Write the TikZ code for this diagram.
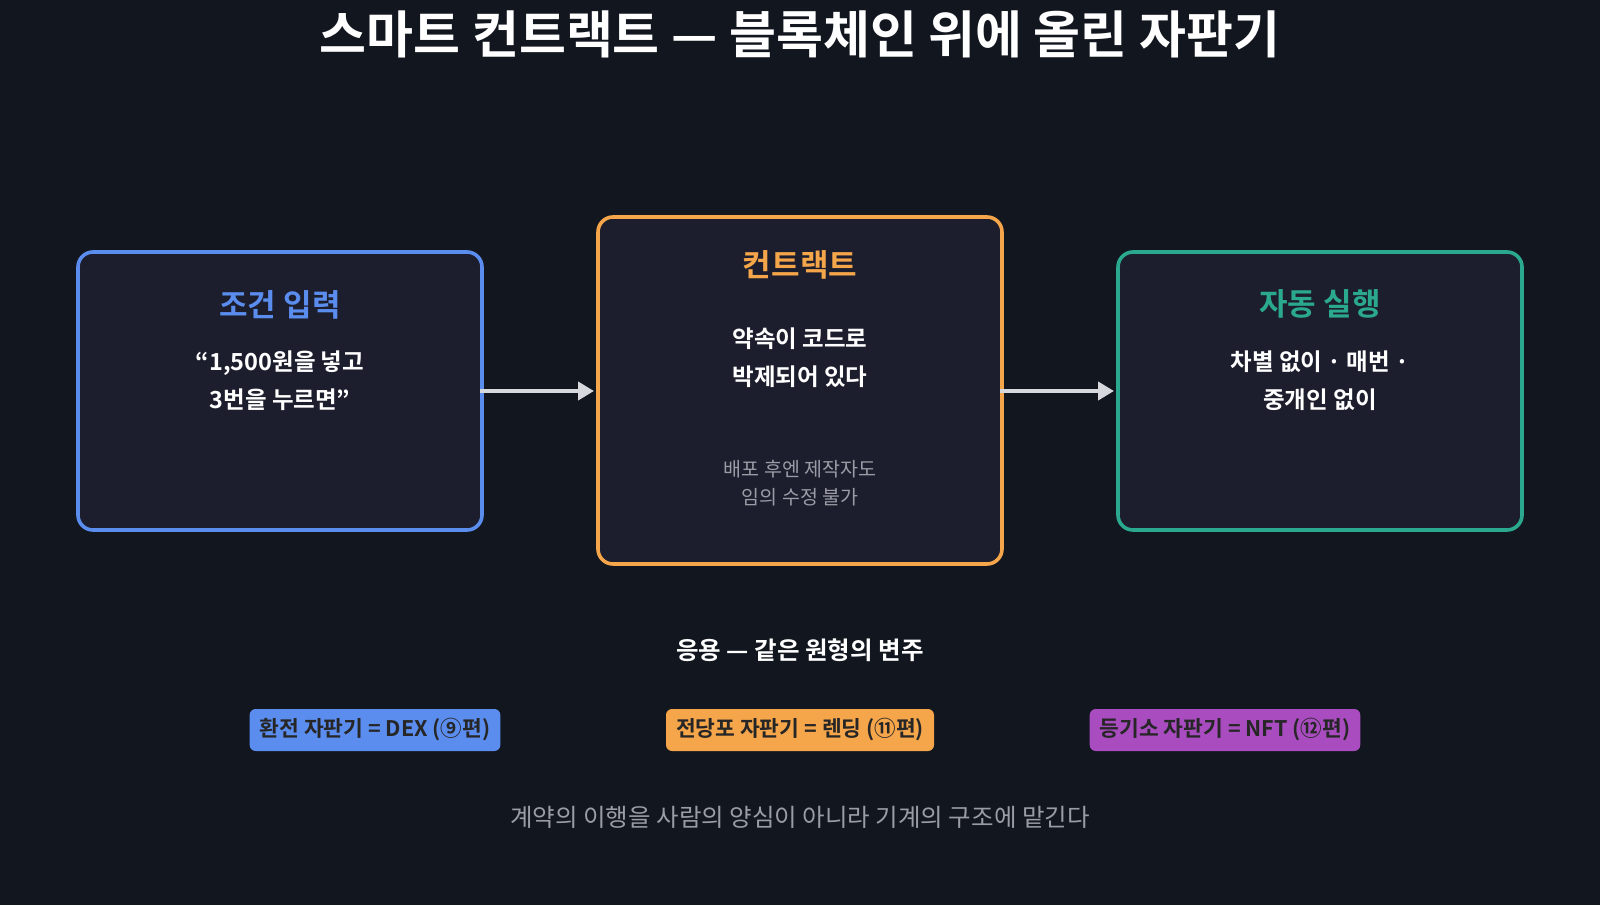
\documentclass[tikz,border=0pt]{standalone}
\usepackage{fontspec}
\setmainfont{Noto Sans CJK KR}
\newfontfamily\kb{Noto Sans CJK KR Bold}
\usetikzlibrary{arrows.meta}
\definecolor{bg}{HTML}{12161F}
\definecolor{boxbg}{HTML}{1D1E2D}
\definecolor{cblue}{HTML}{5B8DEF}
\definecolor{corange}{HTML}{F5A54A}
\definecolor{cteal}{HTML}{2BA98F}
\definecolor{cpurple}{HTML}{A84CC0}
\definecolor{cgray}{HTML}{9A9CA6}
\definecolor{carrow}{HTML}{D6D8DE}
\tikzset{
 card/.style={draw, line width=3.6pt, rounded corners=15pt, fill=boxbg},
 head/.style={font=\kb\fontsize{31}{36}\selectfont},
 body/.style={font=\kb\fontsize{23.5}{38}\selectfont, text=white, align=center},
 small/.style={font=\fontsize{19.5}{28}\selectfont, text=cgray, align=center},
 pill/.style={rounded corners=6pt, inner xsep=10pt, minimum height=42pt, font=\kb\fontsize{21.5}{24}\selectfont, text=black!85},
 arr/.style={draw=carrow, line width=4pt, -{Triangle[length=16pt,width=18pt]}}
}
\begin{document}
\begin{tikzpicture}[x=1pt,y=-1pt]
\fill[bg] (0,0) rectangle (1600,905);
\useasboundingbox (0,0) rectangle (1600,905);
\node[font=\kb\fontsize{51}{56}\selectfont, text=white] (title) at (800,34) {스마트 컨트랙트 — 블록체인 위에 올린 자판기};
\draw[card, draw=cblue] (78,252) rectangle (482,530);
\draw[card, draw=corange] (598,217) rectangle (1002,564);
\draw[card, draw=cteal] (1118,252) rectangle (1522,530);
\coordinate (L) at (480,391); \coordinate (M1) at (594,391);
\coordinate (M2) at (1000,391); \coordinate (R) at (1114,391);
\node[head, text=cblue] (h1) at (280,305) {조건 입력};
\node[body] (b1) at (280,381) {“1,500원을 넣고\\3번을 누르면”};
\node[head, text=corange] (h2) at (800,265) {컨트랙트};
\node[body] (b2) at (800,358) {약속이 코드로\\박제되어 있다};
\node[small] (s2) at (800,483) {배포 후엔 제작자도\\임의 수정 불가};
\node[head, text=cteal] (h3) at (1320,304) {자동 실행};
\node[body] (b3) at (1320,381) {차별 없이 · 매번 ·\\중개인 없이};
\draw[arr] (L) -- (M1);
\draw[arr] (M2) -- (R);
\node[font=\kb\fontsize{24.5}{28}\selectfont, text=white] (app) at (800,650) {응용 — 같은 원형의 변주};
\node[pill, fill=cblue] (p1) at (375,730) {환전 자판기 = DEX (⑨편)};
\node[pill, fill=corange] (p2) at (800,730) {전당포 자판기 = 렌딩 (⑪편)};
\node[pill, fill=cpurple] (p3) at (1225,730) {등기소 자판기 = NFT (⑫편)};
\node[font=\fontsize{24.5}{28}\selectfont, text=cgray] (foot) at (800,817) {계약의 이행을 사람의 양심이 아니라 기계의 구조에 맡긴다};
\end{tikzpicture}
\end{document}
